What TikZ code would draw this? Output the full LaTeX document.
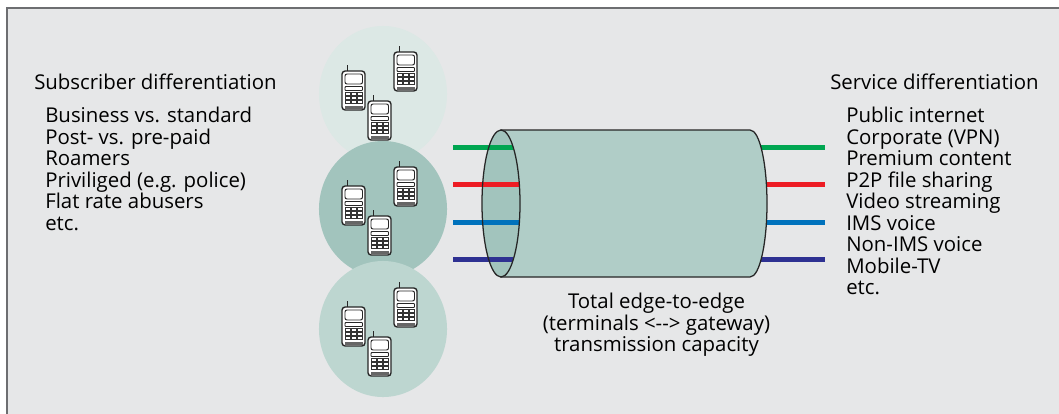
\documentclass[tikz,border=0pt]{standalone}
\usepackage{fontspec}
\setmainfont{Open Sans}
\usetikzlibrary{shapes.geometric}
\definecolor{panelgray}{HTML}{E6E7E8}
\definecolor{framegray}{HTML}{6D6E71}
\definecolor{celllight}{HTML}{DCE8E5}
\definecolor{cellmid}{HTML}{A2C4BD}
\definecolor{cellpale}{HTML}{BDD6D0}
\definecolor{pipefill}{HTML}{B0CDC7}
\definecolor{linegreen}{HTML}{00A651}
\definecolor{linered}{HTML}{ED1C24}
\definecolor{lineblue}{HTML}{0072BC}
\definecolor{linenavy}{HTML}{2E3192}
\tikzset{
    cell/.style={ellipse, minimum width=3.2cm, minimum height=3.4cm, inner sep=0pt},
    label/.style={align=left, anchor=north west, inner sep=0pt, font=\fontsize{14.5}{15.3}\selectfont},
    flow/.style={line width=0.125cm},
    pics/phone/.style={code={
        \draw[line width=0.7pt, draw=black!85] (5,0) -- (5,-6);
        \draw[fill=white, line width=1pt, draw=black!85, rounded corners=0.08cm] (0,0) rectangle (23,39);
        \draw[line width=0.7pt, draw=black!85, rounded corners=0.05cm] (3,3) rectangle (20.5,13);
        \draw[line width=0.7pt, draw=black!85, rounded corners=0.02cm] (3,15.5) rectangle (20.5,19.5);
        \fill[black!80] (2.5,21) rectangle (20.5,33);
        \foreach \col in {0,1,2}
            \foreach \row in {0,1,2}
                \fill[white] (3.7+\col*6,22+\row*3.8) rectangle ++(4,2.2);
        \fill[black!60] (3,34.5) rectangle (20.5,37.5);
    }}
}
\begin{document}
\begin{tikzpicture}[x=0.025cm, y=-0.025cm]
    \useasboundingbox (0,0) rectangle (1059,414);
    \fill[panelgray] (7,8) rectangle (1059,414);
    \draw[framegray, line width=0.05cm] (7,414) -- (7,8) -- (1059,8);

    \node[cell, fill=celllight, name=celltop] at (383,94) {};
    \node[cell, fill=cellmid, name=cellmiddle] at (383,209) {};
    \node[cell, fill=cellpale, name=cellbottom] at (383,329) {};

    \foreach \shift in {0,115,236} {
        \pic at (394,52+\shift) {phone};
        \pic at (342,71+\shift) {phone};
        \pic at (368,101+\shift) {phone};
    }

    \coordinate (greenleft) at (453,147);
    \coordinate (redleft) at (453,184);
    \coordinate (blueleft) at (453,222);
    \coordinate (navyleft) at (453,259);
    \coordinate (greenin) at (513,147);
    \coordinate (redin) at (519,184);
    \coordinate (bluein) at (519,222);
    \coordinate (navyin) at (513,259);
    \coordinate (greenright) at (825,147);
    \coordinate (redright) at (825,184);
    \coordinate (blueright) at (825,222);
    \coordinate (navyright) at (825,259);
    \coordinate (greenout) at (750,147);
    \coordinate (redout) at (750,184);
    \coordinate (blueout) at (750,222);
    \coordinate (navyout) at (750,259);

    \draw[flow, linegreen] (greenout) -- (greenright);
    \draw[flow, linered] (redout) -- (redright);
    \draw[flow, lineblue] (blueout) -- (blueright);
    \draw[flow, linenavy] (navyout) -- (navyright);

    \draw[fill=pipefill, line width=0.9pt, draw=black!85] (501,130) -- (750,130)
        .. controls (760,130) and (767,165) .. (767,203.5)
        .. controls (767,242) and (760,277) .. (750,277)
        -- (501,277) -- cycle;
    \node[ellipse, fill=cellmid, minimum width=0.95cm, minimum height=3.675cm, inner sep=0pt, name=pipefront] at (501,203.5) {};

    \draw[flow, linegreen] (greenleft) -- (greenin);
    \draw[flow, linered] (redleft) -- (redin);
    \draw[flow, lineblue] (blueleft) -- (bluein);
    \draw[flow, linenavy] (navyleft) -- (navyin);
    \node[ellipse, draw=black!85, line width=0.9pt, minimum width=0.95cm, minimum height=3.675cm, inner sep=0pt, name=pipeedge] at (501,203.5) {};

    \node[label, name=subscribertitle] at (34,74) {Subscriber differentiation};
    \node[label, name=subscriberlist] at (45,107) {Business vs. standard\\Post- vs. pre-paid\\Roamers\\Priviliged (e.g. police)\\Flat rate abusers\\etc.};
    \node[label, name=servicetitle] at (830,74) {Service differentiation};
    \node[label, name=servicelist] at (846,107) {Public internet\\Corporate (VPN)\\Premium content\\P2P file sharing\\Video streaming\\IMS voice\\Non-IMS voice\\Mobile-TV\\etc.};
    \node[label, align=center, anchor=north, name=capacity] at (656.5,293) {Total edge-to-edge\\(terminals <-{}-> gateway)\\transmission capacity};
\end{tikzpicture}
\end{document}
